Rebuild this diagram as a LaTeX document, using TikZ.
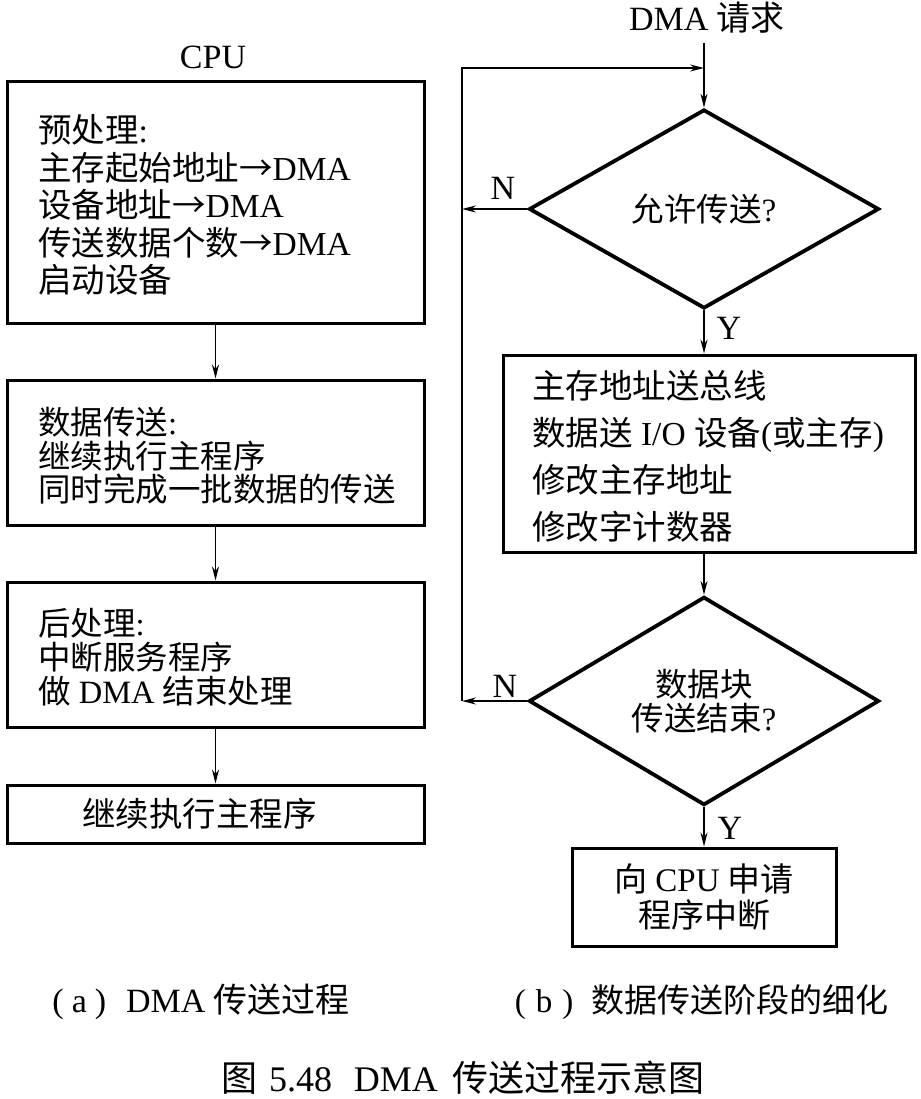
\documentclass[tikz,border=0pt]{standalone}
\usepackage{fontspec}
\setmainfont{Liberation Serif}
\newfontfamily\cjk{Noto Sans CJK SC}
\usetikzlibrary{shapes.geometric,arrows.meta}
\begin{document}
\begin{tikzpicture}[x=1pt,y=-1pt,
  box/.style={draw, line width=3pt, inner sep=0pt},
  dia/.style={draw, diamond, line width=3.8pt, inner sep=0pt, align=center, font=\fontsize{32.5}{34}\selectfont},
  txt/.style={inner sep=0pt, align=left, font=\fontsize{33.5}{37.5}\selectfont},
  lbl/.style={inner sep=0pt, font=\fontsize{34}{37}\selectfont},
  arr/.style={line width=1.6pt, -{Stealth[length=14pt,width=7pt]}},
  ln/.style={line width=1.6pt}]
\fill[white] (0,0) rectangle (920,1099);
\useasboundingbox (0,0) rectangle (920,1099);

% ---------- left: (a) ----------
\node[lbl] (cpu) at (213,57) {CPU};
\node[box, minimum width=417pt, minimum height=241pt] (b1) at (215.5,202.5) {};
\node[txt, anchor=west] (t1) at (38,205) {{\cjk 预处理}:\\{\cjk 主存起始地址→}DMA\\{\cjk 设备地址→}DMA\\{\cjk 传送数据个数→}DMA\\{\cjk 启动设备}};
\node[box, minimum width=417pt, minimum height=145pt] (b2) at (215.5,452.5) {};
\node[txt, anchor=west, font=\fontsize{32.5}{33.5}\selectfont] (t2) at (38,456) {{\cjk 数据传送}:\\{\cjk 继续执行主程序}\\{\cjk 同时完成一批数据的传送}};
\node[box, minimum width=417pt, minimum height=145pt] (b3) at (215.5,654.5) {};
\node[txt, anchor=west, font=\fontsize{32.5}{34}\selectfont] (t3) at (38,657) {{\cjk 后处理}:\\{\cjk 中断服务程序}\\{\cjk 做} DMA {\cjk 结束处理}};
\node[box, minimum width=417pt, minimum height=58pt] (b4) at (215.5,814) {};
\node[txt, anchor=west] (t4) at (82,814) {{\cjk 继续执行主程序}};

\draw[arr] (b1.south) -- (b2.north);
\draw[arr] (b2.south) -- (b3.north);
\draw[arr] (b3.south) -- (b4.north);

% ---------- right: (b) ----------
\node[lbl] (req) at (707,18) {DMA {\cjk 请求}};
\coordinate (top) at (704,43);
\node[dia, minimum width=350pt, minimum height=199pt] (d1) at (704,209) {{\cjk 允许传送}?};
\node[box, minimum width=412pt, minimum height=197pt] (b5) at (709,453.5) {};
\node[txt, anchor=west, font=\fontsize{33.5}{47}\selectfont] (t5) at (532,456) {{\cjk 主存地址送总线}\\{\cjk 数据送} I/O {\cjk 设备}({\cjk 或主存})\\{\cjk 修改主存地址}\\{\cjk 修改字计数器}};
\node[dia, minimum width=350pt, minimum height=198pt] (d2) at (704,701) {{\cjk 数据块}\\{\cjk 传送结束}?};
\node[box, minimum width=264pt, minimum height=98pt, align=center, font=\fontsize{33}{36}\selectfont] (b6) at (704,897) {{\cjk 向} CPU {\cjk 申请}\\{\cjk 程序中断}};

\coordinate (ltop) at (462,68);
\coordinate (rtop) at (704,68);
\coordinate (ln1) at (462,209);
\coordinate (ln2) at (462,701);

\draw[arr] (top) -- (d1.north);
\draw[arr] (d1.south) -- (d1.south |- b5.north);
\draw[arr] (d2.north |- b5.south) -- (d2.north);
\draw[arr] (d2.south) -- (b6.north);
\draw[arr] (d1.west) -- (ln1);
\draw[arr] (d2.west) -- (ln2);
\draw[arr] (ln2) -- (ltop) -- (rtop);

\node[lbl] (n1) at (503,188) {N};
\node[lbl] (n2) at (505,686) {N};
\node[lbl] (y1) at (729,328) {Y};
\node[lbl] (y2) at (730,828) {Y};

% ---------- captions ----------
\node[lbl, font=\fontsize{34}{37}\selectfont] (capa) at (201,1002) {(\hspace{8pt}a\hspace{8pt})\hspace{20pt}DMA\hspace{8pt}{\cjk 传送过程}};
\node[lbl, font=\fontsize{33}{37}\selectfont] (capb) at (701.5,1002) {(\hspace{10pt}b\hspace{10pt})\hspace{18pt}{\cjk 数据传送阶段的细化}};
\node[lbl, font=\fontsize{36}{40}\selectfont] (capf) at (462.5,1078) {{\cjk 图}\hspace{12pt}5.48\hspace{22pt}DMA\hspace{14pt}{\cjk 传送过程示意图}};
\end{tikzpicture}
\end{document}
